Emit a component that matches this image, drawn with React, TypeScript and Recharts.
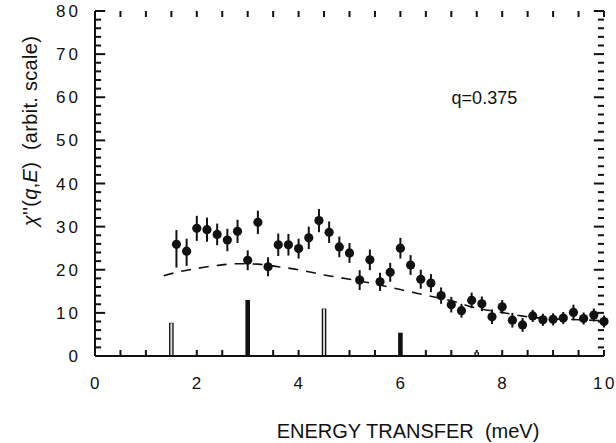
import { ComposedChart, XAxis, YAxis, Scatter, Line, ErrorBar, Label, ReferenceDot, ReferenceLine } from "recharts";

// measured points (energy transfer, chi'') with asymmetric error bars
const energy = [
  1.6, 1.8, 2.0, 2.2, 2.4, 2.6, 2.8, 3.0, 3.2, 3.4, 3.6, 3.8, 4.0, 4.2, 4.4,
  4.6, 4.8, 5.0, 5.2, 5.4, 5.6, 5.8, 6.0, 6.2, 6.4, 6.6, 6.8, 7.0, 7.2, 7.4,
  7.6, 7.8, 8.0, 8.2, 8.4, 8.6, 8.8, 9.0, 9.2, 9.4, 9.6, 9.8, 10.0,
];
const chi = [
  25.9, 24.3, 29.6, 29.3, 28.2, 26.9, 28.9, 22.2, 31.0, 20.7, 25.8, 25.8, 24.9,
  27.4, 31.4, 28.7, 25.3, 23.9, 17.6, 22.3, 17.2, 19.4, 25.0, 21.1, 17.8, 16.9,
  14.0, 11.9, 10.5, 12.9, 12.1, 9.1, 11.4, 8.3, 7.2, 9.3, 8.4, 8.5, 8.8, 10.1,
  8.7, 9.5, 8.0,
];
const errLow = [
  5.4, 3.4, 2.9, 2.8, 2.5, 2.6, 2.7, 2.3, 2.7, 2.2, 2.6, 2.5, 2.3, 2.6, 2.7,
  2.5, 2.4, 2.3, 2.3, 2.4, 2.1, 2.2, 2.4, 2.3, 2.2, 2.1, 1.9, 1.8, 1.6, 1.8,
  1.7, 1.7, 1.6, 1.7, 1.6, 1.4, 1.4, 1.4, 1.4, 1.8, 1.4, 1.5, 1.4,
];
const errHigh = [
  3.3, 2.9, 2.9, 2.8, 2.5, 2.6, 2.7, 2.3, 2.7, 2.2, 2.6, 2.5, 2.3, 2.6, 2.7,
  2.5, 2.4, 2.3, 2.3, 2.4, 2.1, 2.2, 2.4, 2.3, 2.2, 2.1, 1.9, 1.8, 1.6, 1.8,
  1.7, 1.7, 1.6, 1.7, 1.6, 1.4, 1.4, 1.4, 1.4, 1.8, 1.4, 1.5, 1.4,
];

// dashed background curve
const curveE = [1.35, 1.6, 2.0, 2.4, 2.8, 3.2, 3.6, 4.0, 4.5, 5.0, 5.5, 6.0, 6.5, 7.0, 7.5, 8.0, 8.5, 9.0, 9.5, 10.0];
const curveV = [18.6, 19.4, 20.3, 21.0, 21.4, 21.3, 20.7, 20.0, 18.8, 17.8, 16.7, 15.4, 14.1, 12.8, 11.1, 10.1, 9.1, 8.6, 8.4, 8.2];

// stick marks along the bottom
const barE = [1.5, 3.0, 4.5, 6.0, 7.5];
const barV = [7.7, 13.0, 11.0, 5.4, 0.9];
const barHollow = [true, false, true, false, true];

// axis ticks
const xTicks = [0, 0.5, 1, 1.5, 2, 2.5, 3, 3.5, 4, 4.5, 5, 5.5, 6, 6.5, 7, 7.5, 8, 8.5, 9, 9.5, 10];
const xLabels = [0, 2, 4, 6, 8, 10];
const yTicks = [0, 2, 4, 6, 8, 10, 12, 14, 16, 18, 20, 22, 24, 26, 28, 30, 32, 34, 36, 38, 40, 42, 44, 46, 48, 50, 52, 54, 56, 58, 60, 62, 64, 66, 68, 70, 72, 74, 76, 78, 80];
const yLabels = [0, 10, 20, 30, 40, 50, 60, 70, 80];

const points = energy.map((e, i) => ({ e, v: chi[i], err: [errLow[i], errHigh[i]] }));
const curve = curveE.map((e, i) => ({ e, v: curveV[i] }));
const sticks = barE.map((e, i) => ({ e, v: barV[i], err: [barV[i], 0] }));
const stickInside = barE
  .map((e, i) => ({ e, v: barV[i] - 0.12, err: [barV[i] - 0.24, 0], hollow: barHollow[i] }))
  .filter((d) => d.hollow);

const INK = "#111";
const FONT = "'Liberation Sans', Arial, Helvetica, sans-serif";
const axisStyle = { stroke: INK, strokeWidth: 2 };

// inward tick lengths, in data units (x: 10 units ~ 509px, y: 80 units ~ 345px)
const X_MINOR = 1.4;
const Y_MINOR = 0.12;
const Y_MAJOR = 0.2;

const Dot = ({ cx, cy }: any) => <circle cx={cx} cy={cy} r={4.6} fill={INK} />;
const Nothing = () => <g />;

const BottomTick = ({ x, y, payload }: any) => {
  const v = payload.value;
  if (!xLabels.includes(v)) return <g />;
  return (
    <text x={x + 1} y={y + 33} textAnchor="middle" fontSize={17} letterSpacing={2.5} fill={INK} fontFamily={FONT}>
      {v}
    </text>
  );
};

const LeftTick = ({ x, y, payload }: any) => {
  const v = payload.value;
  if (!yLabels.includes(v)) return <g />;
  return (
    <text x={x - 14} y={y + 6} textAnchor="end" fontSize={17} letterSpacing={3} fill={INK} fontFamily={FONT}>
      {v}
    </text>
  );
};

const XTitle = ({ viewBox }: any) => (
  <text x={viewBox.x + viewBox.width * 0.615} y={viewBox.y + 82} textAnchor="middle" fontSize={20} fill={INK} fontFamily={FONT}>
    ENERGY TRANSFER{"\u00a0\u00a0"}(meV)
  </text>
);

const YTitle = ({ viewBox }: any) => {
  const cx = 30;
  const cy = viewBox.y + 120;
  return (
    <text x={cx} y={cy} transform={`rotate(-90 ${cx} ${cy})`} textAnchor="middle" dominantBaseline="central" fontSize={20} letterSpacing={0.3} fill={INK} fontFamily={FONT}>
      <tspan fontStyle="italic">χ</tspan>
      <tspan>''(</tspan>
      <tspan fontStyle="italic">q</tspan>
      <tspan>,</tspan>
      <tspan fontStyle="italic">E</tspan>
      <tspan>){"\u00a0\u00a0"}(arbit. scale)</tspan>
    </text>
  );
};

const tickSeg = (key: string, a: { x: number; y: number }, b: { x: number; y: number }) => (
  <ReferenceLine
    key={key}
    xAxisId="b"
    yAxisId="l"
    segment={[a, b]}
    stroke={INK}
    strokeWidth={2}
    ifOverflow="visible"
  />
);

export default function App() {
  return (
    <div style={{ position: "absolute", left: 0, top: 0, width: 616, height: 443, background: "#fff" }}>
      <ComposedChart width={616} height={443} margin={{ top: 11, right: 12, left: 0, bottom: 37 }}>
        <XAxis
          xAxisId="b"
          type="number"
          dataKey="e"
          domain={[0, 10]}
          ticks={xTicks}
          interval={0}
          tickSize={0}
          tickMargin={0}
          tickLine={false}
          tick={<BottomTick />}
          height={50}
          axisLine={axisStyle}
        >
          <Label content={<XTitle />} />
        </XAxis>
        <XAxis
          xAxisId="t"
          orientation="top"
          type="number"
          dataKey="e"
          domain={[0, 10]}
          ticks={xTicks}
          tickLine={false}
          tick={false}
          height={0}
          axisLine={axisStyle}
        />
        <YAxis
          yAxisId="l"
          type="number"
          dataKey="v"
          domain={[0, 80]}
          ticks={yTicks}
          interval={0}
          tickSize={0}
          tickMargin={0}
          tickLine={false}
          tick={<LeftTick />}
          width={95}
          axisLine={axisStyle}
        >
          <Label content={<YTitle />} />
        </YAxis>
        <YAxis
          yAxisId="r"
          orientation="right"
          type="number"
          dataKey="v"
          domain={[0, 80]}
          ticks={yTicks}
          tickLine={false}
          tick={false}
          width={0}
          axisLine={axisStyle}
        />

        {/* inward tick marks on all four sides */}
        {xTicks.map((t) => tickSeg(`xb${t}`, { x: t, y: 0 }, { x: t, y: X_MINOR }))}
        {xTicks.map((t) => tickSeg(`xt${t}`, { x: t, y: 80 }, { x: t, y: 80 - X_MINOR }))}
        {yTicks.map((t) =>
          tickSeg(`yl${t}`, { x: 0, y: t }, { x: yLabels.includes(t) ? Y_MAJOR : Y_MINOR, y: t })
        )}
        {yTicks.map((t) =>
          tickSeg(`yr${t}`, { x: 10, y: t }, { x: 10 - (yLabels.includes(t) ? Y_MAJOR : Y_MINOR), y: t })
        )}

        <Line
          xAxisId="b"
          yAxisId="l"
          data={curve}
          dataKey="v"
          type="monotone"
          stroke={INK}
          strokeWidth={1.6}
          strokeDasharray="10 8"
          dot={false}
          activeDot={false}
          isAnimationActive={false}
        />

        <Scatter xAxisId="b" yAxisId="l" data={sticks} shape={<Nothing />} isAnimationActive={false}>
          <ErrorBar dataKey="err" direction="y" width={0} stroke={INK} strokeWidth={4.6} isAnimationActive={false} />
        </Scatter>
        <Scatter xAxisId="b" yAxisId="l" data={stickInside} shape={<Nothing />} isAnimationActive={false}>
          <ErrorBar dataKey="err" direction="y" width={0} stroke="#d8d8d8" strokeWidth={2} isAnimationActive={false} />
        </Scatter>

        <Scatter xAxisId="b" yAxisId="l" data={points} shape={<Dot />} isAnimationActive={false}>
          <ErrorBar dataKey="err" direction="y" width={0} stroke={INK} strokeWidth={2} isAnimationActive={false} />
        </Scatter>

        <ReferenceDot
          xAxisId="b"
          yAxisId="l"
          x={7.65}
          y={60}
          r={0}
          fill="none"
          stroke="none"
          label={{ value: "q=0.375", position: "center", fontSize: 18, fill: INK, fontFamily: FONT }}
        />
      </ComposedChart>
    </div>
  );
}
